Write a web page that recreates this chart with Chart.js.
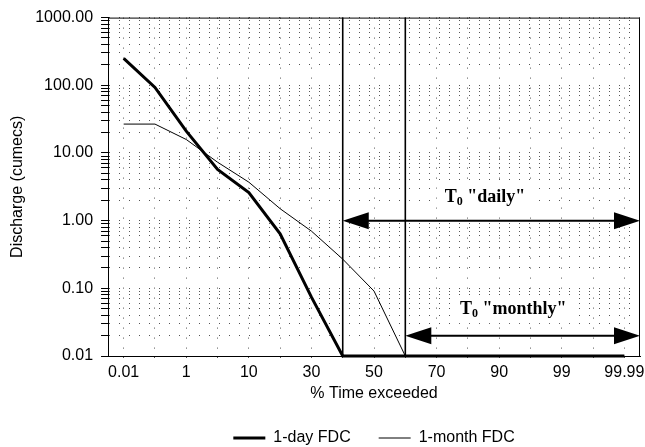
<!DOCTYPE html>
<html>
<head>
<meta charset="utf-8">
<script src="https://cdn.jsdelivr.net/npm/chart.js@4"></script>
<style>
  html, body { margin: 0; padding: 0; background: #fff; }
</style>
</head>
<body>
<canvas id="fdcChart" width="645" height="447"></canvas>
<script>
// % time exceeded (probability axis, one category per step)
const categories = ['0.01', '0.1', '1', '5', '10', '20', '30', '40', '50', '60', '70', '80', '90', '95', '99', '99.9', '99.99'];
const xTickLabels = ['0.01', '', '1', '', '10', '', '30', '', '50', '', '70', '', '90', '', '99', '', '99.99'];

// discharge, cumecs
const oneDayFdc = [250, 93, 21, 5.7, 2.6, 0.64, 0.074, 0.01, 0.01, 0.01, 0.01, 0.01, 0.01, 0.01, 0.01, 0.01, 0.01];
const oneMonthFdc = [26.7, 26.7, 15.8, 7.3, 3.7, 1.5, 0.7, 0.27, 0.091, 0.01, 0.01, 0.01, 0.01, 0.01, 0.01, 0.01, 0.01];

const yDecades = [0.01, 0.1, 1, 10, 100, 1000];

// T0 markers: start category, arrow level, label and where the label sits
const t0Start = ['40', '60'];
const t0Level = [1, 0.02];
const t0Names = ['"daily"', '"monthly"'];
const t0LabelAt = [11.55, 12.45];
const t0LabelLevel = [2.3, 0.051];

const yGridValues = [];
yDecades.forEach((d, i) => {
  yGridValues.push(d);
  if (i < yDecades.length - 1) {
    for (let m = 2; m <= 9; m++) yGridValues.push(+(d * m).toPrecision(3));
  }
});

const sansFont = { family: '"Liberation Sans", Arial, sans-serif', size: 16 };
const sansTight = { family: '"Liberation Sans", Arial, sans-serif', size: 16, lineHeight: 1 };
const serifBig = 'bold 18px "Liberation Serif", "Times New Roman", serif';
const serifSmall = 'bold 12px "Liberation Serif", "Times New Roman", serif';

function labelParts(ctx, name) {
  ctx.font = serifBig;
  const wT = ctx.measureText('T').width;
  const wRest = ctx.measureText(' ' + name).width;
  ctx.font = serifSmall;
  const w0 = ctx.measureText('0').width;
  return { wT, w0, wRest, total: wT + w0 + wRest };
}

const fdcMarks = {
  id: 'fdcMarks',
  beforeDatasetsDraw(chart) {
    const { ctx, scales: { x, y } } = chart;
    ctx.save();
    ctx.fillStyle = '#fff';
    t0Names.forEach((name, i) => {
      const p = labelParts(ctx, name);
      const cx = x.getPixelForValue(t0LabelAt[i]);
      const cy = y.getPixelForValue(t0LabelLevel[i]);
      ctx.fillRect(cx - p.total / 2 - 8, cy - 12, p.total + 18, 27);
    });
    ctx.restore();
  },
  afterDatasetsDraw(chart) {
    const { ctx, chartArea: a, scales: { x, y } } = chart;
    ctx.save();
    // frame top and right
    ctx.strokeStyle = '#000';
    ctx.lineWidth = 1;
    ctx.beginPath();
    ctx.moveTo(a.left, a.top + 0.5);
    ctx.lineTo(a.right - 0.5, a.top + 0.5);
    ctx.lineTo(a.right - 0.5, a.bottom);
    ctx.stroke();

    t0Start.forEach((cat, i) => {
      const x1 = x.getPixelForValue(categories.indexOf(cat));
      const x2 = a.right;
      const ya = y.getPixelForValue(t0Level[i]);
      // vertical marker
      ctx.lineWidth = 1.6;
      ctx.beginPath();
      ctx.moveTo(x1, a.top);
      ctx.lineTo(x1, a.bottom);
      ctx.stroke();
      // double arrow
      const head = 26, half = 8.5;
      ctx.lineWidth = 2;
      ctx.beginPath();
      ctx.moveTo(x1 + head - 2, ya);
      ctx.lineTo(x2 - head + 2, ya);
      ctx.stroke();
      ctx.fillStyle = '#000';
      ctx.beginPath();
      ctx.moveTo(x1, ya);
      ctx.lineTo(x1 + head, ya - half);
      ctx.lineTo(x1 + head, ya + half);
      ctx.closePath();
      ctx.fill();
      ctx.beginPath();
      ctx.moveTo(x2, ya);
      ctx.lineTo(x2 - head, ya - half);
      ctx.lineTo(x2 - head, ya + half);
      ctx.closePath();
      ctx.fill();

      // label T0 "..."
      const p = labelParts(ctx, t0Names[i]);
      const cx = x.getPixelForValue(t0LabelAt[i]);
      const cy = y.getPixelForValue(t0LabelLevel[i]);
      let tx = cx - p.total / 2;
      const base = cy + 6;
      ctx.textBaseline = 'alphabetic';
      ctx.textAlign = 'left';
      ctx.font = serifBig;
      ctx.fillText('T', tx, base);
      tx += p.wT;
      ctx.font = serifSmall;
      ctx.fillText('0', tx, base + 3);
      tx += p.w0;
      ctx.font = serifBig;
      ctx.fillText(' ' + t0Names[i], tx, base);
    });
    ctx.restore();
  }
};

new Chart(document.getElementById('fdcChart'), {
  type: 'line',
  data: {
    labels: categories,
    datasets: [
      {
        label: '1-day FDC',
        data: oneDayFdc,
        borderColor: '#000',
        backgroundColor: '#000',
        borderWidth: 3,
        pointRadius: 0,
        tension: 0,
        fill: false,
        clip: false,
      },
      {
        label: '1-month FDC',
        data: oneMonthFdc,
        borderColor: '#000',
        backgroundColor: '#000',
        borderWidth: 1,
        pointRadius: 0,
        tension: 0,
        fill: false,
        clip: false,
      },
    ],
  },
  options: {
    responsive: false,
    animation: false,
    layout: { padding: { left: 4, right: 5, top: 16, bottom: 0 } },
    plugins: {
      legend: {
        position: 'bottom',
        fullSize: false,
        maxHeight: 45,
        labels: {
          usePointStyle: true,
          pointStyle: 'line',
          pointStyleWidth: 32,
          padding: 28,
          color: '#000',
          font: sansFont,
        },
      },
      tooltip: { enabled: false },
    },
    scales: {
      x: {
        type: 'category',
        offset: true,
        // let the last tick label hang past the plot edge, as in the original
        afterFit: scale => { scale.paddingRight = 0; },
        grid: { offset: false, color: '#555', tickLength: 4, tickColor: '#555', tickBorderDash: [1, 2] },
        border: { color: '#000', width: 1, dash: [1, 9] },
        ticks: {
          autoSkip: false,
          maxRotation: 0,
          padding: 5,
          color: '#000',
          font: sansTight,
          callback: (v, i) => xTickLabels[i],
        },
        title: { display: true, text: '% Time exceeded', color: '#000', font: sansTight, padding: { top: 0, bottom: 0 } },
      },
      y: {
        type: 'logarithmic',
        min: 0.01,
        max: 1000,
        afterBuildTicks: scale => {
          scale.ticks = yGridValues.map(v => ({ value: v }));
        },
        grid: { color: '#555', tickLength: 7, tickColor: '#000' },
        border: { color: '#000', width: 1, dash: [1, 9] },
        ticks: {
          autoSkip: false,
          padding: 8,
          color: '#000',
          font: sansFont,
          callback: v => (yDecades.includes(v) ? v.toFixed(2) : ''),
        },
        title: { display: true, text: 'Discharge (cumecs)', color: '#000', font: sansFont, padding: { top: 4, bottom: 0 } },
      },
    },
  },
  plugins: [fdcMarks],
});
</script>
</body>
</html>
